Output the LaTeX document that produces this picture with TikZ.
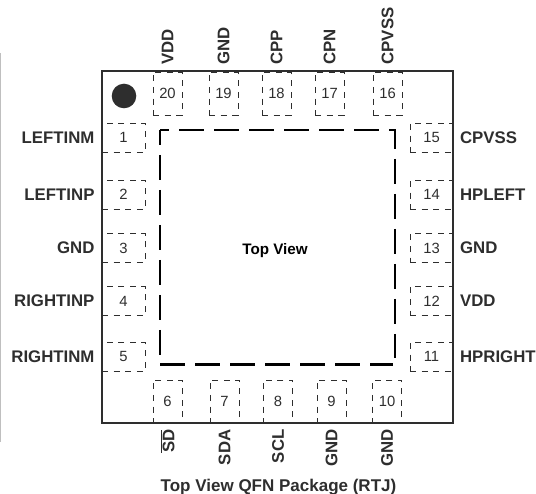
\documentclass[tikz,border=0pt]{standalone}
\usepackage{fontspec}
\setmainfont{Liberation Sans}
\usetikzlibrary{positioning}
\definecolor{pkgdark}{HTML}{2E2E2E}

\begin{document}
\begin{tikzpicture}[
  x=1pt,y=-1pt,
  pin node/.style={
    draw=pkgdark,
    line width=0.7pt,
    dash pattern=on 6pt off 5.6pt,
    inner sep=0pt,
    text=pkgdark,
    font=\fontsize{14.8}{16}\selectfont,
  },
  side pin/.style={
    pin node,
    minimum width=43pt,
    minimum height=29pt,
  },
  upright pin/.style={
    pin node,
    minimum width=29pt,
    minimum height=43pt,
  },
  pin label/.style={
    inner sep=0pt,
    text=pkgdark,
    font=\fontsize{16.8}{18}\selectfont\bfseries,
  },
  pad line/.style={
    line width=2.6pt,
    black,
  },
  ]
  \useasboundingbox (0,0) rectangle (536,494);
  \draw[black!25,line width=1.4pt] (0,53) -- (0,442);

  \node[side pin] (pin-1) at (123.5,137.5) {1};
  \node[side pin] (pin-2) at (123.5,194.5) {2};
  \node[side pin] (pin-3) at (123.5,248) {3};
  \node[side pin] (pin-4) at (123.5,301) {4};
  \node[side pin] (pin-5) at (123.5,356.5) {5};
  \node[upright pin] (pin-6) at (167.5,401.5) {6};
  \node[upright pin] (pin-7) at (224.5,401.5) {7};
  \node[upright pin] (pin-8) at (278,401.5) {8};
  \node[upright pin] (pin-9) at (331.5,401.5) {9};
  \node[upright pin] (pin-10) at (387,401.5) {10};
  \node[side pin] (pin-11) at (431.5,356.5) {11};
  \node[side pin] (pin-12) at (431.5,301) {12};
  \node[side pin] (pin-13) at (431.5,248) {13};
  \node[side pin] (pin-14) at (431.5,194.5) {14};
  \node[side pin] (pin-15) at (431.5,137.5) {15};
  \node[upright pin] (pin-16) at (387.5,93.5) {16};
  \node[upright pin] (pin-17) at (329.5,93.5) {17};
  \node[upright pin] (pin-18) at (276.5,93.5) {18};
  \node[upright pin] (pin-19) at (223.5,93.5) {19};
  \node[upright pin] (pin-20) at (167.5,93.5) {20};

  \draw[pkgdark,line width=2pt] (101.5,71.5) rectangle (453,423);
  \fill[pkgdark] (124,96) circle (12.3);

  \draw[pad line,dash pattern=on 25pt off 10pt,dash phase=16pt]
  (160,130) -- (395,130) -- (395,358);
  \draw[pad line,dash pattern=on 25pt off 10pt,dash phase=10pt]
  (160,130) -- (160,355);
  \draw[pad line,dash pattern=on 25pt off 10pt]
  (160,364.5) -- (393,364.5);

  \node[left=7pt of pin-1.west,pin label] {LEFTINM};
  \node[left=7pt of pin-2.west,pin label] {LEFTINP};
  \node[left=7pt of pin-3.west,pin label] {GND};
  \node[left=7pt of pin-4.west,pin label] {RIGHTINP};
  \node[left=7pt of pin-5.west,pin label] {RIGHTINM};

  \node[right=6.5pt of pin-15.east,pin label] {CPVSS};
  \node[right=6.5pt of pin-14.east,pin label] {HPLEFT};
  \node[right=6.5pt of pin-13.east,pin label] {GND};
  \node[right=6.5pt of pin-12.east,pin label] {VDD};
  \node[right=6.5pt of pin-11.east,pin label] {HPRIGHT};

  \node[above=7pt of pin-20.north,anchor=west,rotate=90,pin label] {VDD};
  \node[above=7pt of pin-19.north,anchor=west,rotate=90,pin label] {GND};
  \node[above=7pt of pin-18.north,anchor=west,rotate=90,pin label] {CPP};
  \node[above=7pt of pin-17.north,anchor=west,rotate=90,pin label] {CPN};
  \node[above=7pt of pin-16.north,anchor=west,rotate=90,pin label] {CPVSS};

  \node[below=6pt of pin-6.south,anchor=east,rotate=90,pin label] {$\overline{\hbox{SD}}$};
  \node[below=6pt of pin-7.south,anchor=east,rotate=90,pin label] {SDA};
  \node[below=6pt of pin-8.south,anchor=east,rotate=90,pin label] {SCL};
  \node[below=6pt of pin-9.south,anchor=east,rotate=90,pin label] {GND};
  \node[below=6pt of pin-10.south,anchor=east,rotate=90,pin label] {GND};

  \node[pin label,text=black,font=\fontsize{15.2}{17}\selectfont\bfseries] (top-view) at (275,251) {Top View};
  \node[pin label,font=\fontsize{17}{19}\selectfont\bfseries] (package-title) at (278.5,487) {Top View QFN Package (RTJ)};
\end{tikzpicture}
\end{document}
